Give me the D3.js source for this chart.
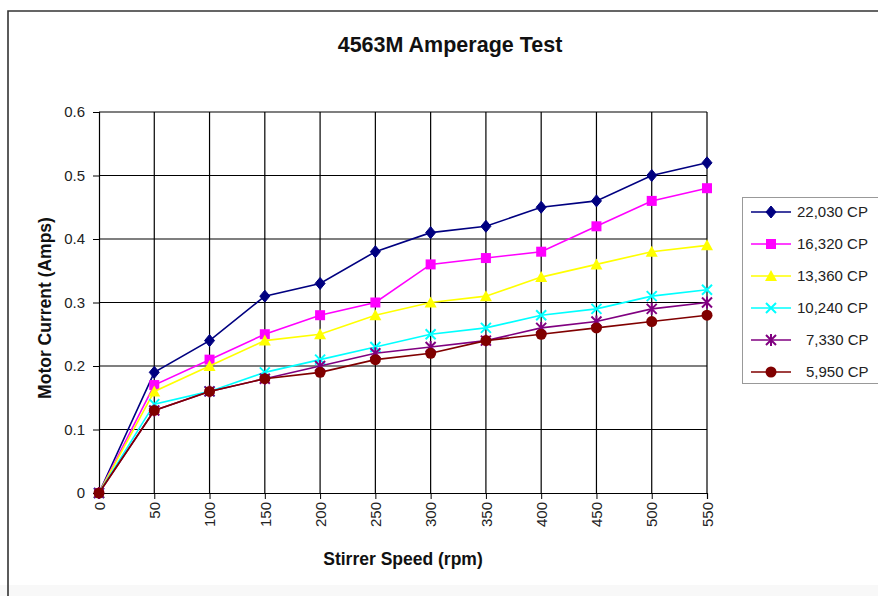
<!DOCTYPE html>
<html><head><meta charset="utf-8">
<script src="https://cdn.jsdelivr.net/npm/d3@7"></script>
<style>
html,body{margin:0;padding:0;background:#fff;}
svg{display:block;}
text{font-family:"Liberation Sans",Arial,sans-serif;}
</style></head>
<body>
<script>
const speeds = [0,50,100,150,200,250,300,350,400,450,500,550];
const seriesNames = ["22,030 CP","16,320 CP","13,360 CP","10,240 CP","7,330 CP","5,950 CP"];
const s22030 = [0,0.19,0.24,0.31,0.33,0.38,0.41,0.42,0.45,0.46,0.50,0.52];
const s16320 = [0,0.17,0.21,0.25,0.28,0.30,0.36,0.37,0.38,0.42,0.46,0.48];
const s13360 = [0,0.16,0.20,0.24,0.25,0.28,0.30,0.31,0.34,0.36,0.38,0.39];
const s10240 = [0,0.14,0.16,0.19,0.21,0.23,0.25,0.26,0.28,0.29,0.31,0.32];
const s7330  = [0,0.13,0.16,0.18,0.20,0.22,0.23,0.24,0.26,0.27,0.29,0.30];
const s5950  = [0,0.13,0.16,0.18,0.19,0.21,0.22,0.24,0.25,0.26,0.27,0.28];
const yTicks = [0,0.1,0.2,0.3,0.4,0.5,0.6];

const colors = ["#000080","#FF00FF","#FFFF00","#00FFFF","#800080","#800000"];
const markers = ["diamond","square","triangle","x","star","circle"];
const allSeries = [s22030,s16320,s13360,s10240,s7330,s5950];

const W = 878, H = 596;
const svg = d3.select("body").append("svg").attr("width",W).attr("height",H);

// frame
svg.append("rect").attr("x",0).attr("y",585).attr("width",W).attr("height",11).attr("fill","#f8f8f8");
svg.append("path").attr("d",`M8,${H} V11 H${W}`).attr("fill","none").attr("stroke","#333").attr("stroke-width",1.6);

const x = d3.scaleLinear().domain([0,550]).range([99,707]);
const y = d3.scaleLinear().domain([0,0.6]).range([493,112]);

// title
svg.append("text").attr("x",450).attr("y",52).attr("text-anchor","middle")
  .attr("font-size",21.5).attr("font-weight","bold").attr("fill","#111").text("4563M Amperage Test");

// gridlines
const g = svg.append("g");
g.selectAll("line.h").data(yTicks.slice(1)).join("line")
  .attr("x1",x(0)).attr("x2",x(550)).attr("y1",d=>y(d)).attr("y2",d=>y(d))
  .attr("stroke","#000").attr("stroke-width",1.2);
g.selectAll("line.v").data(speeds.slice(1)).join("line")
  .attr("y1",y(0)).attr("y2",y(0.6)).attr("x1",d=>x(d)).attr("x2",d=>x(d))
  .attr("stroke","#000").attr("stroke-width",1.2);

// axes
const yAxis = d3.axisLeft(y).tickValues(yTicks).tickSize(6).tickPadding(8).tickFormat(d=>d===0?"0":d3.format(".1f")(d));
const ya = svg.append("g").attr("transform",`translate(${x(0)},0)`).call(yAxis);
ya.select(".domain").attr("stroke","#000").attr("stroke-width",1.2);
ya.selectAll(".tick line").attr("stroke","#000");
ya.selectAll("text").attr("font-size",15).attr("fill","#222").style("font-family","'Liberation Sans',Arial,sans-serif");

const xAxis = d3.axisBottom(x).tickValues(speeds).tickSize(6).tickFormat(d=>String(d));
const xa = svg.append("g").attr("transform",`translate(0,${y(0)})`).call(xAxis);
xa.select(".domain").attr("stroke","#000").attr("stroke-width",1.2);
xa.selectAll(".tick line").attr("stroke","#000");
xa.selectAll("text").attr("font-size",15).attr("fill","#222")
  .style("font-family","'Liberation Sans',Arial,sans-serif")
  .attr("transform","rotate(-90)").attr("text-anchor","end")
  .attr("x",-9).attr("y",0).attr("dy","0.35em");

// axis titles
svg.append("text").attr("x",403).attr("y",565).attr("text-anchor","middle")
  .attr("font-size",17.5).attr("font-weight","bold").attr("fill","#111").text("Stirrer Speed (rpm)");
svg.append("text").attr("transform","translate(51,308) rotate(-90)").attr("text-anchor","middle")
  .attr("font-size",17.5).attr("font-weight","bold").attr("fill","#111").text("Motor Current (Amps)");

// marker drawer
function drawMarker(sel, type, color, cx, cy){
  const gg = sel.append("g").attr("transform",`translate(${cx},${cy})`);
  if(type==="diamond") gg.append("path").attr("d","M0,-6 L5,0 L0,6 L-5,0Z").attr("fill",color).attr("stroke",color);
  else if(type==="square") gg.append("rect").attr("x",-5).attr("y",-5).attr("width",10).attr("height",10).attr("fill",color);
  else if(type==="triangle") gg.append("path").attr("d","M0,-6 L6,5 L-6,5Z").attr("fill",color);
  else if(type==="circle") gg.append("circle").attr("r",5.5).attr("fill",color);
  else if(type==="x") gg.append("path").attr("d","M-5,-5 L5,5 M-5,5 L5,-5").attr("stroke",color).attr("stroke-width",2);
  else if(type==="star") gg.append("path").attr("d","M-5,-5 L5,5 M-5,5 L5,-5 M0,-6 L0,6").attr("stroke",color).attr("stroke-width",2);
}

const line = d3.line().x((d,i)=>x(speeds[i])).y(d=>y(d));
allSeries.forEach((s,k)=>{
  const sg = svg.append("g");
  sg.append("path").datum(s).attr("d",line).attr("fill","none").attr("stroke",colors[k]).attr("stroke-width",1.6);
  s.forEach((v,i)=>drawMarker(sg, markers[k], colors[k], x(speeds[i]), y(v)));
});

// legend
const lg = svg.append("g");
lg.append("rect").attr("x",742.5).attr("y",197.5).attr("width",150).attr("height",186)
  .attr("fill","#fff").attr("stroke","#999").attr("stroke-width",1);
const ly0 = 212, lstep = 32;
seriesNames.forEach((n,k)=>{
  const yy = ly0 + k*lstep;
  lg.append("line").attr("x1",751).attr("x2",791).attr("y1",yy).attr("y2",yy).attr("stroke",colors[k]).attr("stroke-width",1.6);
  drawMarker(lg, markers[k], colors[k], 771, yy);
  lg.append("text").attr("x",797 + (9 - n.length) * 9).attr("y",yy).attr("dy","0.35em").attr("font-size",15).attr("fill","#222").text(n);
});
</script>
</body></html>
